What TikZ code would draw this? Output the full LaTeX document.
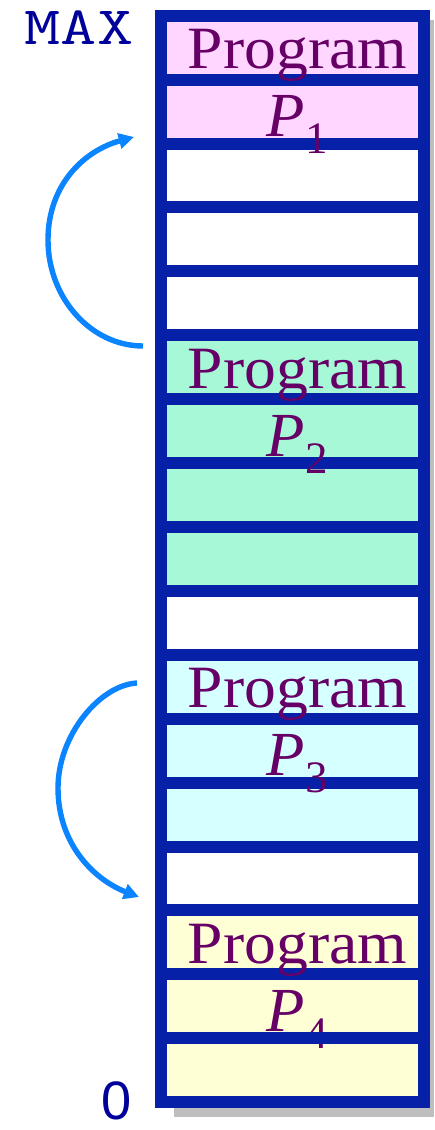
\documentclass[tikz,border=0pt]{standalone}
\usepackage{fontspec}
\setmainfont{Liberation Serif}
\newfontfamily\progfont[FakeStretch=1.06]{Liberation Serif}
\newfontfamily\zerofont{Liberation Sans}
\usetikzlibrary{arrows.meta,calc}
\definecolor{memblue}{HTML}{0620A8}
\definecolor{memnavy}{HTML}{00009A}
\definecolor{memtext}{HTML}{660066}
\definecolor{memarrow}{HTML}{0A84FF}
\definecolor{mempink}{HTML}{FFD6FF}
\definecolor{memgreen}{HTML}{A6F8D6}
\definecolor{memcyan}{HTML}{D6FFFF}
\definecolor{memyellow}{HTML}{FFFFD6}
\definecolor{memshadow}{HTML}{BEBEBE}
% P with a lowered index
\newcommand{\pname}[1]{{\itshape\fontsize{44.6}{44.6}\selectfont P}\lower12pt\hbox{\fontsize{32}{32}\selectfont #1}}
\tikzset{
  cell/.style={rectangle,draw=memblue,line width=0.3cm,inner sep=0pt,outer sep=0pt,minimum width=6.57cm,minimum height=1.5975cm},
  prog/.style={text=memtext,font=\progfont\fontsize{42.7}{42.7}\selectfont,inner sep=0pt,anchor=base},
  plab/.style={text=memtext,inner sep=0pt,anchor=base},
  addr/.style={text=memnavy,inner sep=0pt,anchor=base},
  move/.style={-{Triangle[length=0.38cm,width=0.38cm]},draw=memarrow,line width=0.135cm},
}

\begin{document}
\begin{tikzpicture}[x=0.025cm,y=-0.025cm]
  \useasboundingbox (0,0) rectangle (434,1130);
  % shadow under the memory column
  \fill[memshadow] (174,20) rectangle (434,1117);
  % memory cells, top (MAX) to bottom (0)
  \foreach \i/\col in {1/mempink,2/mempink,3/white,4/white,5/white,6/memgreen,7/memgreen,8/memgreen,9/memgreen,10/white,11/memcyan,12/memcyan,13/memcyan,14/white,15/memyellow,16/memyellow,17/memyellow}
    \node[cell,fill=\col] (c\i) at (292.4,{15.8+63.9*(\i-0.5)}) {};
  % program labels
  \foreach \i/\j/\k in {1/2/1,6/7/2,11/12/3,15/16/4}{
    \node[prog] (prog\k) at ($(c\i.center)+(5,21)$) {Program};
    \node[plab] (p\k) at ($(c\j.center)+(5,25)$) {\pname{\k}};
  }
  \draw[memblue,line width=0.3cm] (c16.south west) -- (c16.south east);
  % addresses
  \node[addr] (max) at (79,45) {\scalebox{1.3}[1]{\ttfamily\fontsize{38.4}{38.4}\selectfont MAX}};
  \node[addr] (zero) at (117,1119) {\zerofont\fontsize{38.5}{38.5}\selectfont 0};
  % moves
  \coordinate (s1) at (143,346);
  \coordinate (m1) at (48,240);
  \coordinate (e1) at (134,137);
  \draw[move] (s1) .. controls (91,346) and (48,298) .. (m1) .. controls (48,183) and (86,150) .. (e1);
  \coordinate (s2) at (137,683);
  \coordinate (m2) at (58,788);
  \coordinate (e2) at (139,897);
  \draw[move] (s2) .. controls (100,685) and (58,735) .. (m2) .. controls (58,845) and (95,880) .. (e2);
\end{tikzpicture}
\end{document}
